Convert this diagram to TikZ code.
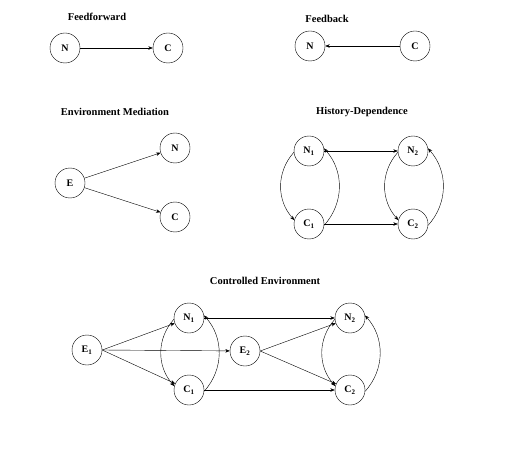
\documentclass[tikz,border=0pt]{standalone}
\usepackage{fontspec}
\setmainfont{Liberation Serif}
\usetikzlibrary{arrows.meta}

\begin{document}
\begin{tikzpicture}[x=1pt,y=-1pt]
		\tikzset{state/.style={circle,draw=black,thin,minimum size=30pt,inner sep=0pt,font=\fontsize{10}{12}\selectfont\bfseries}} %circle nodes
		\tikzset{title/.style={font=\fontsize{10.5}{12}\selectfont\bfseries}}
		\tikzset{arr/.style={-{Stealth[length=4.5pt,width=3.5pt]},thin}}
		\useasboundingbox (0,0) rectangle (529,454);
		% feedforward
		\node[title] (tff) at (97,17) {Feedforward};
		\node[state] (ffN) at (65,48) {N};
		\node[state] (ffC) at (168,48) {C};
		\draw[arr] (ffN)--(ffC);
		% feedback
		\node[title] (tfb) at (327,19) {Feedback};
		\node[state] (fbN) at (310,46) {N};
		\node[state] (fbC) at (415,46) {C};
		\draw[arr] (fbC)--(fbN);
		% environment mediation
		\node[title] (tem) at (115,112) {Environment Mediation};
		\node[state] (emE) at (70,183) {E};
		\node[state] (emN) at (175,148) {N};
		\node[state] (emC) at (175,217) {C};
		\draw[arr] (emE)--(emN);
		\draw[arr] (emE)--(emC);
		% history dependence
		\node[title] (thd) at (362,112) {History-Dependence};
		\node[state] (hdN1) at (309,151) {N$_\mathbf{1}$};
		\node[state] (hdC1) at (309,224) {C$_\mathbf{1}$};
		\node[state] (hdN2) at (413,151) {N$_\mathbf{2}$};
		\node[state] (hdC2) at (413,224) {C$_\mathbf{2}$};
		\draw[arr] (hdN1)--(hdN2);
		\draw[arr] (hdC1)--(hdC2);
		\draw[arr] (hdN1.185) to[out=228,in=132] (hdC1.165); %left curves
		\draw[arr] (hdN2.185) to[out=228,in=132] (hdC2.165);
		\draw[arr] (hdC1.-5) to[out=48,in=-48] (hdN1.10); %right curves
		\draw[arr] (hdC2.-5) to[out=48,in=-48] (hdN2.10);
		% controlled environment
		\node[title] (tce) at (265,281) {Controlled Environment};
		\node[state] (ceE1) at (87,350) {E$_\mathbf{1}$};
		\node[state] (ceN1) at (189,318) {N$_\mathbf{1}$};
		\node[state] (ceC1) at (189,390) {C$_\mathbf{1}$};
		\node[state] (ceE2) at (245,351) {E$_\mathbf{2}$};
		\node[state] (ceN2) at (350,318) {N$_\mathbf{2}$};
		\node[state] (ceC2) at (350,390) {C$_\mathbf{2}$};
		\draw[arr] (ceE1.east)--(ceN1);
		\draw[arr] (ceE1.east)--(ceE2);
		\draw[arr] (ceE1.east)--(ceC1);
		\draw[arr] (ceE2.east)--(ceN2);
		\draw[arr] (ceE2.east)--(ceC2);
		\draw[arr] (ceN1)--(ceN2);
		\draw[arr] (ceC1)--(ceC2);
		\draw[arr] (ceN1.185) to[out=228,in=132] (ceC1.165);
		\draw[arr] (ceN2.185) to[out=228,in=132] (ceC2.165);
		\draw[arr] (ceC1.-5) to[out=48,in=-48] (ceN1.10);
		\draw[arr] (ceC2.-5) to[out=48,in=-48] (ceN2.10);
	\end{tikzpicture}
\end{document}
